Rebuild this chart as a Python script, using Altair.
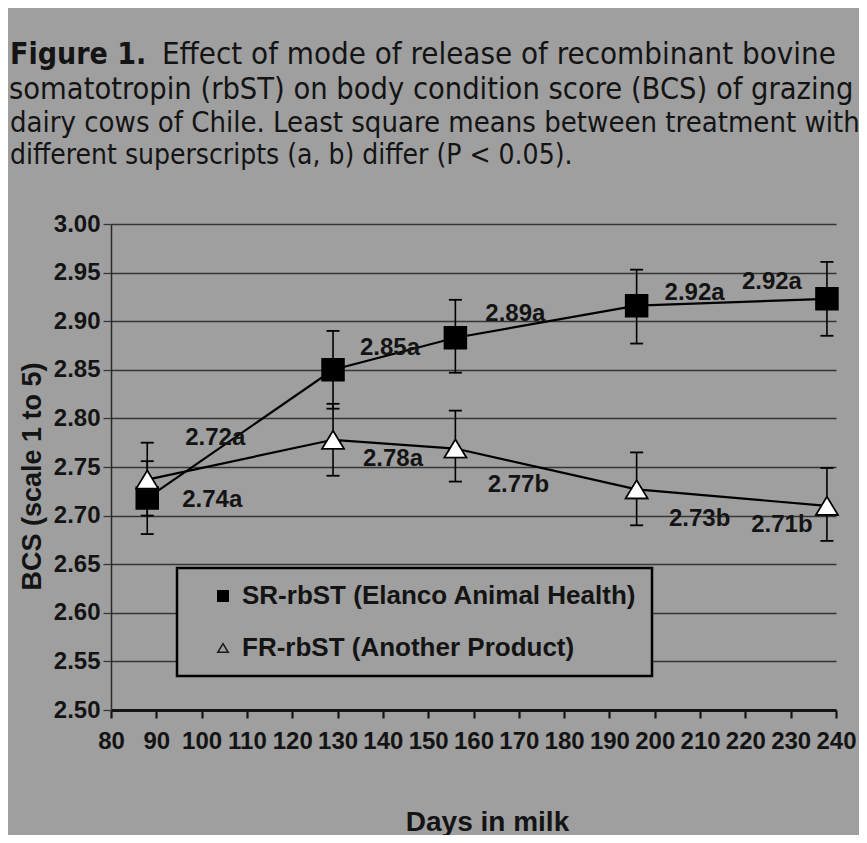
import altair as alt
import pandas as pd

# ---------------- data ----------------
days = [88, 129, 156, 196, 238]
sr_mean = [2.718, 2.850, 2.883, 2.916, 2.923]
sr_low = [2.681, 2.810, 2.847, 2.877, 2.885]
sr_high = [2.756, 2.890, 2.922, 2.953, 2.961]
fr_mean = [2.737, 2.778, 2.769, 2.727, 2.710]
fr_low = [2.700, 2.741, 2.735, 2.690, 2.674]
fr_high = [2.775, 2.815, 2.808, 2.765, 2.749]
sr_labels = ["2.72a", "2.85a", "2.89a", "2.92a", "2.92a"]
fr_labels = ["2.74a", "2.78a", "2.77b", "2.73b", "2.71b"]
series_names = ["SR-rbST (Elanco Animal Health)", "FR-rbST (Another Product)"]
x_ticks = list(range(80, 241, 10))
y_ticks = [2.50, 2.55, 2.60, 2.65, 2.70, 2.75, 2.80, 2.85, 2.90, 2.95, 3.00]
caption_bold = "Figure 1."
caption_line1 = "Effect of mode of release of recombinant bovine"
caption_lines = [
    "somatotropin (rbST) on body condition score (BCS) of grazing",
    "dairy cows of Chile. Least square means between treatment with",
    "different superscripts (a, b) differ (P < 0.05).",
]
x_title = "Days in milk"
y_title = "BCS (scale 1 to 5)"

# ---------------- styling ----------------
BG = "#9f9f9f"
INK = "#141414"
FONT = "Liberation Sans"
NARROW = "Liberation Sans Narrow, DejaVu Sans Condensed, Liberation Sans"
W, H = 725, 486
TRI = "M-1,0.82L1,0.82L0,-0.82Z"

rows = []
for i, d in enumerate(days):
    rows.append(dict(day=d, series=series_names[0], bcs=sr_mean[i], lo=sr_low[i], hi=sr_high[i], lab=sr_labels[i], idx=i))
for i, d in enumerate(days):
    rows.append(dict(day=d, series=series_names[1], bcs=fr_mean[i], lo=fr_low[i], hi=fr_high[i], lab=fr_labels[i], idx=i))
df = pd.DataFrame(rows)

YSCALE = alt.Scale(domain=[2.5, 3.0], nice=False, zero=False)

x_enc = alt.X(
    "day:Q",
    scale=alt.Scale(domain=[80, 240], nice=False, zero=False),
    axis=alt.Axis(
        values=x_ticks, format="d", title=x_title, grid=False,
        labelFont=FONT, labelFontSize=24, labelFontWeight="bold", labelColor=INK,
        labelOverlap=False, labelFlush=False, labelPadding=11,
        tickColor=INK, tickSize=8, tickWidth=2.2,
        domainColor=INK, domainWidth=3.2,
        titleFont=FONT, titleFontSize=28, titleFontWeight="bold", titleColor=INK,
        titleX=376, titleY=120, titleBaseline="alphabetic",
    ),
)
y_enc = alt.Y(
    "bcs:Q",
    scale=YSCALE,
    axis=alt.Axis(
        values=y_ticks, format=".2f", title=y_title,
        grid=True, gridColor="#353535", gridWidth=1.3, gridOpacity=1,
        labelFont=FONT, labelFontSize=24, labelFontWeight="bold", labelColor=INK,
        labelPadding=3, tickColor="#353535", tickSize=8, tickWidth=1.3,
        domainColor="#2a2a2a", domainWidth=1.5,
        titleFont=FONT, titleFontSize=27, titleFontWeight="bold", titleColor=INK,
        titleX=-71, titleY=252, titleBaseline="alphabetic", titleAngle=270,
    ),
)

base = alt.Chart(df)

lines = base.mark_line(color="black", strokeWidth=2.2).encode(
    x=x_enc, y=y_enc, detail="series:N", order="day:Q"
)
bars = base.mark_rule(color="black", strokeWidth=1.6).encode(
    x=x_enc, y=alt.Y("lo:Q", scale=YSCALE), y2="hi:Q"
)
caps_lo = base.mark_tick(orient="horizontal", size=13, thickness=1.8, color="black", opacity=1).encode(
    x=x_enc, y=alt.Y("lo:Q", scale=YSCALE)
)
caps_hi = base.mark_tick(orient="horizontal", size=13, thickness=1.8, color="black", opacity=1).encode(
    x=x_enc, y=alt.Y("hi:Q", scale=YSCALE)
)

legend = alt.Legend(
    title=None, orient="none", legendX=66, legendY=344,
    padding=15, symbolOffset=18, labelOffset=6, rowPadding=26,
    labelFont=FONT, labelFontSize=26, labelFontWeight="bold", labelColor=INK,
    labelLimit=800, symbolSize=110, symbolStrokeWidth=1.5,
    strokeColor="black", fillColor=BG, labelExpr="datum.label + '    '",
)
points = base.mark_point(filled=True, size=480, opacity=1, strokeWidth=1.6).encode(
    x=x_enc, y=y_enc,
    shape=alt.Shape("series:N", scale=alt.Scale(domain=series_names, range=["square", TRI]), legend=legend),
    fill=alt.Fill("series:N", scale=alt.Scale(domain=series_names, range=["black", BG]), legend=legend),
    stroke=alt.Stroke("series:N", scale=alt.Scale(domain=series_names, range=["black", "#1a1a1a"]), legend=legend),
)

# white fill for the open triangles on the plot (legend keeps the background fill)
tri_fill = base.transform_filter(alt.datum.series == series_names[1]).mark_point(
    filled=True, size=480, opacity=1, strokeWidth=1.6, shape=TRI, fill="white", stroke="black"
).encode(x=x_enc, y=y_enc)

# value labels (offsets are styling)
sr_off = [(68, -60), (57, -22), (60, -24), (58, -13), (-55, -17)]
fr_off = [(65, 20), (60, 19), (63, 36), (63, 30), (-45, 19)]
label_layers = []
for s, offs in ((series_names[0], sr_off), (series_names[1], fr_off)):
    for i, (dx, dy) in enumerate(offs):
        label_layers.append(
            base.transform_filter((alt.datum.series == s) & (alt.datum.idx == i))
            .mark_text(dx=dx, dy=dy, font=FONT, fontSize=24, fontWeight="bold", color=INK, baseline="middle")
            .encode(x=x_enc, y=y_enc, text="lab:N")
        )

# caption above the plot (justified lines approximated by per-line size)
cap_layers = [
    alt.Chart(pd.DataFrame({"t": [caption_bold]})).mark_text(
        font=NARROW, fontSize=30, fontWeight="bold", color=INK, align="left", baseline="middle"
    ).encode(text="t:N", x=alt.value(-101), y=alt.value(-169)),
    alt.Chart(pd.DataFrame({"t": [caption_line1]})).mark_text(
        font=NARROW, fontSize=31, color=INK, align="left", baseline="middle"
    ).encode(text="t:N", x=alt.value(51), y=alt.value(-169)),
]
for j, (t, xv, fs) in enumerate(zip(caption_lines, [-102, -101, -101], [30.5, 29.0, 28])):
    cap_layers.append(
        alt.Chart(pd.DataFrame({"t": [t]})).mark_text(
            font=NARROW, fontSize=fs, color=INK, align="left", baseline="middle"
        ).encode(text="t:N", x=alt.value(xv), y=alt.value(-134 + 33 * j))
    )

chart = alt.layer(lines, bars, caps_lo, caps_hi, points, tri_fill, *label_layers, *cap_layers).properties(
    width=W, height=H,
    autosize=alt.AutoSizeParams(type="none"),
    padding={"left": 103, "top": 216, "right": 23, "bottom": 125},
    background=BG,
).configure_view(stroke=None).configure_legend(strokeWidth=2.5)

chart.save("out.html", embed_options={"renderer": "svg", "actions": False})
